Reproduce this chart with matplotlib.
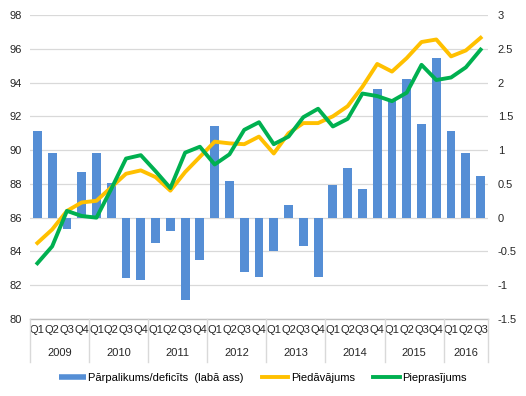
import numpy as np
import matplotlib
matplotlib.use("Agg")
import matplotlib.pyplot as plt
from matplotlib.lines import Line2D

plt.rcParams['font.family'] = ['Liberation Sans', 'DejaVu Sans']

# dati: 2009 Q1 - 2016 Q3
gadi = ['2009', '2010', '2011', '2012', '2013', '2014', '2015', '2016']
ceturksni = ['Q1', 'Q2', 'Q3', 'Q4'] * 7 + ['Q1', 'Q2', 'Q3']

parpalikums = [1.28, 0.96, -0.17, 0.68, 0.95, 0.52, -0.90, -0.93,
               -0.37, -0.20, -1.22, -0.62, 1.36, 0.55, -0.81, -0.88,
               -0.50, 0.19, -0.42, -0.88, 0.49, 0.73, 0.42, 1.90,
               1.76, 2.05, 1.39, 2.36, 1.28, 0.95, 0.62]

piedavajums = [84.5, 85.3, 86.4, 86.9, 87.0, 87.8, 88.6, 88.8,
               88.4, 87.6, 88.7, 89.6, 90.5, 90.4, 90.35, 90.8,
               89.8, 91.0, 91.6, 91.6, 92.0, 92.6, 93.75, 95.1,
               94.65, 95.45, 96.4, 96.55, 95.55, 95.9, 96.65]

pieprasijums = [83.3, 84.3, 86.4, 86.1, 86.0, 87.7, 89.5, 89.7,
                88.75, 87.75, 89.85, 90.2, 89.15, 89.75, 91.2, 91.65,
                90.35, 90.8, 91.95, 92.45, 91.4, 91.85, 93.35, 93.2,
                92.9, 93.4, 95.05, 94.15, 94.3, 94.9, 95.95]

x = np.arange(len(ceturksni))

fig = plt.figure(figsize=(5.26, 3.96), dpi=100)
ax = fig.add_axes([30/526, 1 - 319/396, 458/526, 304/396])
ax2 = ax.twinx()

# stabiņi uz labās ass
ax.bar(x, parpalikums, width=0.6, color='#558ED5', zorder=2)
ax.set_ylim(-1.5, 3)
ax.set_yticks(np.arange(-1.5, 3.01, 0.5))
ax.set_yticklabels(['-1.5', '-1', '-0.5', '0', '0.5', '1', '1.5', '2', '2.5', '3'])
ax.grid(axis='y', color='#D9D9D9', linewidth=0.9, zorder=0)
ax.set_axisbelow(True)
ax.yaxis.tick_right()

# līnijas uz kreisās ass
ax2.plot(x, piedavajums, color='#FFC000', linewidth=2.8, zorder=3)
ax2.plot(x, pieprasijums, color='#00B050', linewidth=2.8, zorder=4)
ax2.set_ylim(80, 98)
ax2.set_yticks(np.arange(80, 98.1, 2))
ax2.set_yticklabels([str(v) for v in range(80, 99, 2)])
ax2.yaxis.tick_left()

ax.set_xlim(-0.5, len(x) - 0.5)
ax.set_xticks(x)
ax.set_xticklabels(ceturksni)

for a in (ax, ax2):
    for s in a.spines.values():
        s.set_visible(False)
    a.tick_params(length=0, labelsize=8, colors='#262626')
ax.tick_params(axis='x', pad=4)
ax.tick_params(axis='y', pad=7)
ax2.tick_params(axis='y', pad=6)

# apakšējā ass un gadu atdalītāji
ax.axhline(-1.5, color='#BFBFBF', linewidth=1, zorder=1, clip_on=False)
trans = ax.get_xaxis_transform()
robezas = [-0.5 + 4 * i for i in range(8)] + [len(x) - 0.5]
for r in robezas:
    ax.plot([r, r], [0, -0.14], color='#D9D9D9', linewidth=1,
            transform=trans, clip_on=False)
for i, g in enumerate(gadi):
    c = (robezas[i] + robezas[i + 1]) / 2
    ax.text(c, -0.112, g, transform=trans, ha='center', va='center',
            fontsize=8, color='#262626')

handles = [Line2D([], [], color='#558ED5', linewidth=4, solid_capstyle='butt'),
           Line2D([], [], color='#FFC000', linewidth=2.8),
           Line2D([], [], color='#00B050', linewidth=2.8)]
fig.legend(handles, ['Pārpalikums/deficīts  (labā ass)', 'Piedāvājums', 'Pieprasījums'],
           loc='center', bbox_to_anchor=(0.5, 1 - 378/396), ncol=3, frameon=False,
           fontsize=8, handlelength=2.4, handletextpad=0.25, columnspacing=1.6)

fig.savefig('out.png', dpi=100)
